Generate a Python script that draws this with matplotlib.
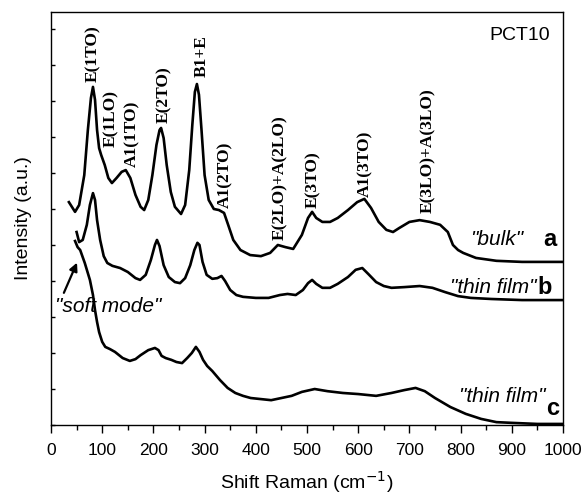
import matplotlib
matplotlib.use("Agg")
import matplotlib.pyplot as plt
from matplotlib.ticker import MultipleLocator

# Raman spectra of PCT10, offset vertically (a: bulk, b/c: thin films)
shift_a = [35, 47, 55, 65, 72, 78, 82, 86, 90, 94, 98, 105, 112, 119, 128, 138, 146,
           155, 165, 175, 182, 190, 198, 206, 212, 215, 220, 226, 234, 242, 254, 262,
           270, 276, 281, 285, 289, 294, 300, 308, 318, 328, 338, 346, 356, 370, 389,
           410, 428, 443, 458, 473, 490, 502, 510, 518, 530, 545, 560, 580, 598, 612,
           625, 640, 655, 668, 680, 700, 720, 740, 760, 775, 785, 795, 805, 830, 870,
           920, 1000]
int_a = [6.19, 5.92, 6.11, 6.94, 8.19, 9.08, 9.39, 9.03, 8.19, 7.69, 7.50, 7.22, 6.86,
         6.72, 6.86, 7.03, 7.08, 6.86, 6.39, 6.06, 5.97, 6.25, 6.94, 7.78, 8.19, 8.25,
         7.97, 7.22, 6.47, 6.06, 5.86, 6.11, 7.08, 8.33, 9.25, 9.47, 9.17, 8.19, 6.94,
         6.25, 6.00, 5.97, 5.89, 5.56, 5.14, 4.86, 4.72, 4.69, 4.78, 5.00, 4.94, 4.89,
         5.28, 5.75, 5.92, 5.75, 5.64, 5.64, 5.75, 5.97, 6.19, 6.28, 6.03, 5.64, 5.42,
         5.36, 5.47, 5.64, 5.69, 5.64, 5.56, 5.36, 5.00, 4.86, 4.78, 4.64, 4.56, 4.53,
         4.53]

shift_b = [50, 55, 62, 70, 76, 82, 86, 90, 96, 103, 110, 120, 135, 150, 165, 174, 185,
           195, 203, 207, 212, 220, 230, 242, 252, 262, 272, 280, 286, 290, 296, 304,
           315, 325, 333, 340, 350, 362, 375, 400, 425, 447, 462, 478, 492, 502, 510,
           518, 530, 545, 560, 580, 595, 608, 620, 635, 650, 665, 690, 720, 745, 770,
           795, 820, 860, 920, 1000]
int_b = [5.36, 5.08, 5.14, 5.56, 6.11, 6.44, 6.25, 5.69, 5.14, 4.69, 4.50, 4.42, 4.36,
         4.25, 4.08, 4.03, 4.17, 4.58, 5.00, 5.14, 4.97, 4.44, 4.11, 3.97, 3.94, 4.08,
         4.44, 4.86, 5.06, 5.00, 4.53, 4.17, 4.06, 4.08, 4.14, 4.00, 3.75, 3.61, 3.56,
         3.53, 3.53, 3.61, 3.64, 3.61, 3.75, 3.94, 4.03, 3.92, 3.81, 3.81, 3.92, 4.11,
         4.31, 4.36, 4.19, 3.97, 3.86, 3.81, 3.83, 3.86, 3.81, 3.69, 3.58, 3.53, 3.50,
         3.47, 3.47]

shift_c = [47, 52, 57, 66, 76, 82, 86, 90, 94, 100, 106, 115, 125, 140, 154, 165, 175,
           190, 203, 210, 216, 224, 235, 245, 256, 266, 275, 283, 290, 297, 305, 315,
           330, 345, 360, 375, 390, 410, 430, 450, 470, 490, 515, 540, 570, 600, 635,
           665, 690, 712, 730, 750, 780, 810, 840, 870, 900, 950, 1000]
int_c = [5.11, 4.94, 4.86, 4.50, 4.03, 3.61, 3.19, 2.86, 2.58, 2.31, 2.17, 2.11, 2.03,
         1.86, 1.78, 1.83, 1.94, 2.08, 2.14, 2.08, 1.92, 1.86, 1.81, 1.75, 1.72, 1.86,
         2.00, 2.17, 2.03, 1.81, 1.64, 1.50, 1.25, 1.03, 0.89, 0.81, 0.75, 0.72, 0.69,
         0.75, 0.81, 0.92, 1.00, 0.94, 0.89, 0.86, 0.81, 0.89, 0.97, 1.03, 0.94, 0.75,
         0.50, 0.31, 0.17, 0.08, 0.06, 0.03, 0.03]

# mode assignments: label, x position, bottom of the label
modes = ['E(1TO)', 'E(1LO)', 'A1(1TO)', 'E(2TO)', 'B1+E', 'A1(2TO)',
         'E(2LO)+A(2LO)', 'E(3TO)', 'A1(3TO)', 'E(3LO)+A(3LO)']
mode_x = [82, 117, 158, 221, 295, 340, 447, 512, 613, 736]
mode_y = [9.53, 7.72, 7.17, 8.39, 9.67, 6.03, 5.14, 6.03, 6.33, 5.89]

fig = plt.figure(figsize=(5.82, 4.96), dpi=100)
ax = fig.add_axes([0.0876, 0.1431, 0.8798, 0.8327])

for x, y in [(shift_a, int_a), (shift_b, int_b), (shift_c, int_c)]:
    ax.plot(x, y, color='black', lw=1.9, solid_joinstyle='round')

for name, x, y in zip(modes, mode_x, mode_y):
    ax.text(x, y, name, rotation=90, ha='center', va='bottom',
            family='Liberation Serif', weight='bold', fontsize=12.5)

sans = 'Liberation Sans'
ax.text(975, 10.83, 'PCT10', ha='right', va='center', family=sans, fontsize=14)

ax.text(922, 5.14, '"bulk"', ha='right', va='center', family=sans,
        style='italic', fontsize=15)
ax.text(961, 5.14, 'a', ha='left', va='center', family=sans,
        weight='bold', fontsize=17)
ax.text(949, 3.83, '"thin film"', ha='right', va='center', family=sans,
        style='italic', fontsize=15)
ax.text(951, 3.83, 'b', ha='left', va='center', family=sans,
        weight='bold', fontsize=17)
ax.text(965, 0.78, '"thin film"', ha='right', va='center', family=sans,
        style='italic', fontsize=15)
ax.text(967, 0.47, 'c', ha='left', va='center', family=sans,
        weight='bold', fontsize=17)

ax.text(8, 3.28, '"soft mode"', ha='left', va='center', family=sans,
        style='italic', fontsize=15)
ax.annotate('', xy=(53, 4.58), xytext=(23, 3.6),
            arrowprops=dict(arrowstyle='-|>', color='black', lw=1.6,
                            mutation_scale=12))

ax.set_xlim(0, 1000)
ax.set_ylim(0, 11.47)
ax.xaxis.set_major_locator(MultipleLocator(100))
ax.xaxis.set_minor_locator(MultipleLocator(50))
ax.yaxis.set_major_locator(MultipleLocator(1))
ax.tick_params(axis='x', which='major', direction='out', length=6, width=1,
               labelsize=12.5, pad=7)
ax.tick_params(axis='x', which='minor', direction='out', length=3.5, width=1)
ax.tick_params(axis='y', direction='in', length=3, width=1, labelleft=False)
for lab in ax.get_xticklabels():
    lab.set_family(sans)
for s in ax.spines.values():
    s.set_linewidth(1)

ax.set_xlabel('Shift Raman (cm$^{-1}$)', family=sans, fontsize=14, labelpad=8)
ax.set_ylabel('Intensity (a.u.)', family=sans, fontsize=14, labelpad=14)

fig.savefig('out.png', dpi=100)
